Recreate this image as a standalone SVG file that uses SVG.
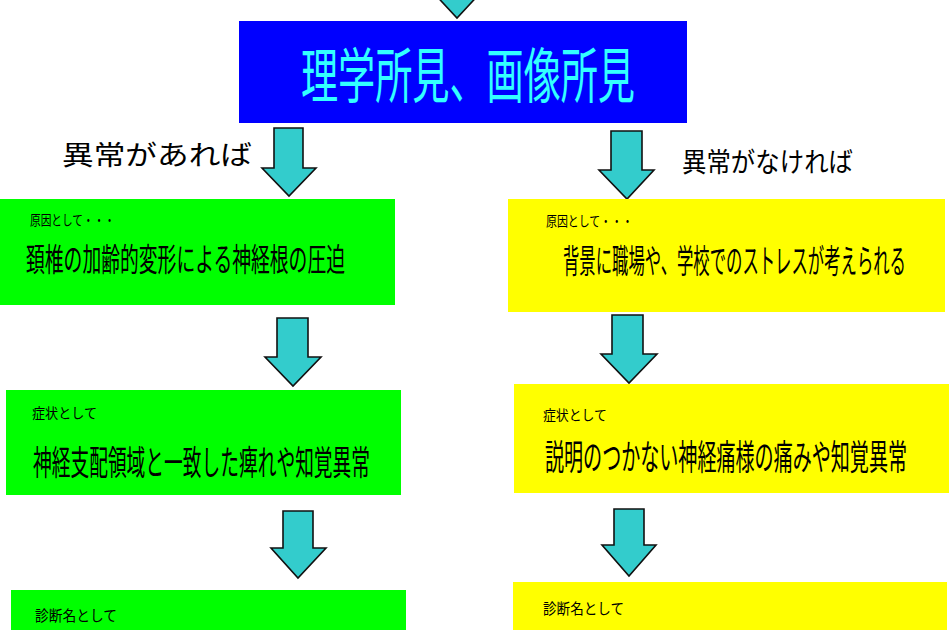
<svg xmlns="http://www.w3.org/2000/svg" width="949" height="630" viewBox="0 0 949 630">
<style>
text{font-family:"Noto Sans CJK JP","Noto Sans",sans-serif;fill:#000}
.title{fill:#33FFFF;font-size:60px}
.small{font-size:14px}
.lbl{font-size:27px}
.arrow{fill:#33CCCC;stroke:#111;stroke-width:1.6;stroke-linejoin:miter}
.green{fill:#00FF00}
.yellow{fill:#FFFF00}
</style>
<rect width="949" height="630" fill="#fff"/>
<g id="connectors">
<polygon class="arrow" points="443,-20 471,-20 471,-11 484,-11 457,18 430,-11 443,-11"/>
<polygon class="arrow" points="274,128 303,128 303,168 316,168 289,196 262,168 274,168"/>
<polygon class="arrow" points="611,131 642,131 642,170 654,170 627,199 599,170 611,170"/>
<polygon class="arrow" points="277,318 308,318 308,357 321,357 293,386 265,357 277,357"/>
<polygon class="arrow" points="612,315 643,315 643,354 657,354 629,383 601,354 612,354"/>
<polygon class="arrow" points="283,511 313,511 313,548 326,548 298,578 271,548 283,548"/>
<polygon class="arrow" points="614,509 644,509 644,545 656,545 629,576 602,545 614,545"/>
</g>
<g id="title">
<rect x="239" y="21" width="448" height="102" fill="#0000FF"/>
<text class="title" transform="translate(301,98) scale(0.6185,1)" x="0" y="0" textLength="540" lengthAdjust="spacingAndGlyphs">理学所見、画像所見</text>
</g>
<g id="label-abnormal">
<text class="lbl" x="62" y="165" textLength="190" lengthAdjust="spacingAndGlyphs">異常があれば</text>
</g>
<g id="label-normal">
<text class="lbl" x="682" y="172" textLength="171" lengthAdjust="spacingAndGlyphs">異常がなければ</text>
</g>
<g id="cause-left">
<rect class="green" x="0" y="199" width="395" height="106"/>
<text class="small" x="30" y="225" textLength="85" lengthAdjust="spacingAndGlyphs">原因として・・・</text>
<text transform="translate(26,271) scale(0.5864,1)" x="0" y="0" style="font-size:32px" textLength="544" lengthAdjust="spacingAndGlyphs">頚椎の加齢的変形による神経根の圧迫</text>
</g>
<g id="cause-right">
<rect class="yellow" x="508" y="199" width="437" height="113"/>
<text class="small" x="546" y="226" textLength="87" lengthAdjust="spacingAndGlyphs">原因として・・・</text>
<text transform="translate(563,273) scale(0.4949,1)" x="0" y="0" style="font-size:33px" textLength="693" lengthAdjust="spacingAndGlyphs">背景に職場や、学校でのストレスが考えられる</text>
</g>
<g id="symptom-left">
<rect class="green" x="6" y="390" width="395" height="105"/>
<text class="small" x="32" y="418" textLength="65" lengthAdjust="spacingAndGlyphs">症状として</text>
<text transform="translate(33,475) scale(0.5507,1)" x="0" y="0" style="font-size:34px" textLength="612" lengthAdjust="spacingAndGlyphs">神経支配領域と一致した痺れや知覚異常</text>
</g>
<g id="symptom-right">
<rect class="yellow" x="514" y="384" width="435" height="109"/>
<text class="small" x="543" y="420" textLength="64" lengthAdjust="spacingAndGlyphs">症状として</text>
<text transform="translate(545,470) scale(0.5444,1)" x="0" y="0" style="font-size:35px" textLength="665" lengthAdjust="spacingAndGlyphs">説明のつかない神経痛様の痛みや知覚異常</text>
</g>
<g id="diagnosis-left">
<rect class="green" x="11" y="590" width="395" height="40"/>
<text class="small" x="35" y="621" textLength="82" lengthAdjust="spacingAndGlyphs" style="font-size:15px">診断名として</text>
</g>
<g id="diagnosis-right">
<rect class="yellow" x="513" y="582" width="434" height="48"/>
<text class="small" x="543" y="614" textLength="81" lengthAdjust="spacingAndGlyphs" style="font-size:15px">診断名として</text>
</g>
</svg>
